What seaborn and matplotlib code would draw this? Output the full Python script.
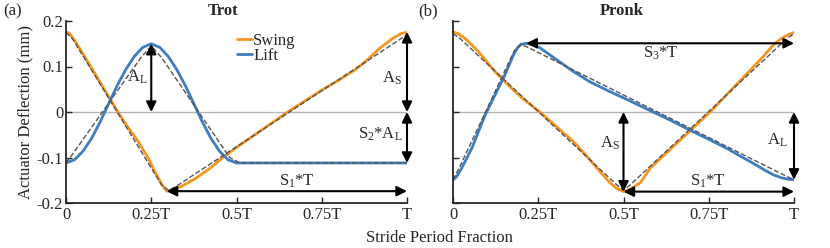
import matplotlib
matplotlib.use('Agg')
import numpy as np
import matplotlib.pyplot as plt
import seaborn as sns

sns.set_theme(style='ticks')
plt.rcParams['font.family'] = ['Liberation Serif', 'DejaVu Serif']
plt.rcParams['mathtext.default'] = 'regular'
plt.rcParams['font.size'] = 12

ORANGE = '#F7941E'
BLUE = '#3E7DBF'
REF = '#555555'
INK = '#262626'
FS = 12

# ---- (a) trot (x as fraction of stride period T, y in mm)
trot_swing_x = [0, 0.01, 0.03, 0.06, 0.09, 0.12, 0.15, 0.18, 0.21, 0.24, 0.26, 0.28, 0.295,
                0.31, 0.34, 0.38, 0.42, 0.46, 0.50, 0.55, 0.60, 0.65, 0.70, 0.75, 0.80,
                0.85, 0.88, 0.92, 0.96, 0.985, 1.0]
trot_swing = [0.176, 0.173, 0.152, 0.115, 0.078, 0.040, 0.003, -0.032, -0.063, -0.100, -0.130,
              -0.158, -0.174, -0.172, -0.163, -0.146, -0.125, -0.100, -0.078, -0.052, -0.026,
              0.0, 0.024, 0.048, 0.070, 0.094, 0.112, 0.140, 0.163, 0.173, 0.175]
trot_lift_x = [0, 0.025, 0.05, 0.075, 0.1, 0.125, 0.15, 0.175, 0.2, 0.225, 0.25, 0.275, 0.3,
               0.325, 0.35, 0.375, 0.4, 0.425, 0.45, 0.475, 0.5, 1.0]
trot_lift = [-0.112, -0.105, -0.086, -0.058, -0.022, 0.018, 0.058, 0.093, 0.122, 0.142, 0.150,
             0.142, 0.122, 0.093, 0.058, 0.018, -0.022, -0.058, -0.086, -0.105, -0.112, -0.112]
trot_swing_ref_x = [0, 0.02, 0.28, 0.30, 0.32, 0.97, 1.0]
trot_swing_ref = [0.175, 0.160, -0.160, -0.172, -0.165, 0.155, 0.170]
trot_lift_ref_x = [0, 0.02, 0.22, 0.25, 0.28, 0.48, 0.51, 1.0]
trot_lift_ref = [-0.112, -0.092, 0.120, 0.145, 0.120, -0.100, -0.112, -0.112]

# ---- (b) pronk
pronk_swing_x = [0, 0.015, 0.035, 0.074, 0.123, 0.172, 0.21, 0.255, 0.30, 0.353, 0.39, 0.431,
                 0.46, 0.48, 0.50, 0.52, 0.55, 0.578, 0.60, 0.65, 0.70, 0.754, 0.80, 0.85,
                 0.90, 0.939, 0.96, 0.978, 1.0]
pronk_swing = [0.176, 0.172, 0.162, 0.133, 0.089, 0.052, 0.026, 0.0, -0.030, -0.065, -0.095,
               -0.131, -0.155, -0.168, -0.175, -0.170, -0.155, -0.124, -0.108, -0.073, -0.038,
               0.0, 0.036, 0.075, 0.114, 0.147, 0.160, 0.168, 0.175]
pronk_lift_x = [0, 0.01, 0.025, 0.055, 0.094, 0.123, 0.152, 0.177, 0.19, 0.2, 0.215, 0.235,
                0.255, 0.30, 0.353, 0.40, 0.451, 0.52, 0.587, 0.64, 0.695, 0.75, 0.803, 0.845,
                0.881, 0.91, 0.939, 0.965, 0.985, 1.0]
pronk_lift = [-0.149, -0.143, -0.124, -0.080, -0.007, 0.037, 0.081, 0.125, 0.142, 0.149, 0.151,
              0.148, 0.141, 0.117, 0.089, 0.067, 0.048, 0.024, 0.0, -0.019, -0.040, -0.060,
              -0.080, -0.098, -0.113, -0.126, -0.138, -0.145, -0.148, -0.149]
pronk_swing_ref_x = [0, 0.02, 0.48, 0.50, 0.52, 0.98, 1.0]
pronk_swing_ref = [0.172, 0.162, -0.160, -0.172, -0.160, 0.162, 0.172]
pronk_lift_ref_x = [0, 0.02, 0.18, 0.20, 0.22, 0.98, 1.0]
pronk_lift_ref = [-0.149, -0.120, 0.135, 0.148, 0.142, -0.142, -0.149]

xticks = [0, 0.25, 0.5, 0.75, 1.0]
xtick_labels = ['0', '0.25T', '0.5T', '0.75T', 'T']
yticks = [-0.2, -0.1, 0, 0.1, 0.2]
ytick_labels = ['-0.2', '-0.1', '0', '0.1', '0.2']


def arrow(ax, p0, p1):
    ax.annotate('', xy=p1, xytext=p0, annotation_clip=False,
                arrowprops=dict(arrowstyle='<|-|>,head_length=0.6,head_width=0.3',
                                color='black', lw=1.5, shrinkA=0, shrinkB=0,
                                mutation_scale=10))


def panel(ax, sx, sy, lx, ly, srx, sry, lrx, lry, title, tx, legend):
    ax.axhline(0, color='#b4b4b4', lw=1, zorder=0)
    sns.lineplot(x=sx, y=sy, ax=ax, color=ORANGE, lw=2, label='Swing' if legend else None)
    sns.lineplot(x=lx, y=ly, ax=ax, color=BLUE, lw=2, label='Lift' if legend else None)
    sns.lineplot(x=srx, y=sry, ax=ax, color=REF, lw=1, linestyle='--')
    sns.lineplot(x=lrx, y=lry, ax=ax, color=REF, lw=1, linestyle='--')
    ax.set_xlim(0, 1)
    ax.set_ylim(-0.2, 0.2)
    ax.set_xticks(xticks, labels=xtick_labels)
    ax.set_yticks(yticks, labels=ytick_labels)
    ax.tick_params(direction='in', length=4, width=1, colors=INK, labelsize=FS)
    ax.tick_params(axis='x', pad=3)
    ax.tick_params(axis='y', pad=2)
    for s in ['top', 'right']:
        ax.spines[s].set_visible(False)
    for s in ['left', 'bottom']:
        ax.spines[s].set_linewidth(1.3)
        ax.spines[s].set_color(INK)
    ax.set_xlabel('')
    ax.set_ylabel('')
    ax.set_title(title, fontweight='bold', fontsize=FS, x=tx, pad=4)


fig = plt.figure(figsize=(8.3, 2.48), dpi=100)
ax1 = fig.add_axes([66 / 830, 1 - 203 / 248, 341 / 830, 182 / 248])
ax2 = fig.add_axes([453 / 830, 1 - 203 / 248, 341 / 830, 182 / 248])

panel(ax1, trot_swing_x, trot_swing, trot_lift_x, trot_lift,
      trot_swing_ref_x, trot_swing_ref, trot_lift_ref_x, trot_lift_ref, 'Trot', 0.46, True)
panel(ax2, pronk_swing_x, pronk_swing, pronk_lift_x, pronk_lift,
      pronk_swing_ref_x, pronk_swing_ref, pronk_lift_ref_x, pronk_lift_ref, 'Pronk', 0.495, False)
ax2.set_yticklabels([])

ax1.legend(loc='upper left', bbox_to_anchor=(0.50, 0.935), frameon=False, fontsize=FS,
           handlelength=0.95, handletextpad=0.05, labelspacing=-0.05, borderpad=0,
           borderaxespad=0)
ax1.set_ylabel('Actuator Deflection (mm)', fontsize=FS, color=INK)
ax1.yaxis.set_label_coords(-0.095, 0.5)

# annotations, trot
i_top = int(np.argmax(trot_lift))
arrow(ax1, (trot_lift_x[i_top], 0), (trot_lift_x[i_top], max(trot_lift)))
ax1.text(0.24, 0.077, 'A$_L$', ha='right', va='center', fontsize=FS)
arrow(ax1, (1.0, 0), (1.0, max(trot_swing)))
ax1.text(0.985, 0.075, 'A$_S$', ha='right', va='center', fontsize=FS)
arrow(ax1, (1.0, 0), (1.0, min(trot_lift)))
ax1.text(0.985, -0.05, 'S$_2$*A$_L$', ha='right', va='center', fontsize=FS)
i_min = int(np.argmin(trot_swing))
arrow(ax1, (trot_swing_x[i_min], min(trot_swing)), (1.0, min(trot_swing)))
ax1.text(0.676, -0.153, 'S$_1$*T', ha='center', va='center', fontsize=FS)

# annotations, pronk
i_top = int(np.argmax(pronk_lift))
arrow(ax2, (pronk_lift_x[i_top], max(pronk_lift)), (1.0, max(pronk_lift)))
ax2.text(0.61, 0.128, 'S$_3$*T', ha='center', va='center', fontsize=FS)
i_min = int(np.argmin(pronk_swing))
arrow(ax2, (pronk_swing_x[i_min], 0), (pronk_swing_x[i_min], min(pronk_swing)))
ax2.text(0.49, -0.068, 'A$_S$', ha='right', va='center', fontsize=FS)
arrow(ax2, (1.0, 0), (1.0, min(pronk_lift)))
ax2.text(0.98, -0.062, 'A$_L$', ha='right', va='center', fontsize=FS)
arrow(ax2, (pronk_swing_x[i_min], min(pronk_swing)), (1.0, min(pronk_swing)))
ax2.text(0.747, -0.153, 'S$_1$*T', ha='center', va='center', fontsize=FS)

fig.text(0.004, 0.955, '(a)', ha='left', va='center', fontsize=FS)
fig.text(0.504, 0.955, '(b)', ha='left', va='center', fontsize=FS)
fig.text(0.529, 0.04, 'Stride Period Fraction', ha='center', va='center', fontsize=FS, color=INK)

fig.savefig('out.png', dpi=100)
